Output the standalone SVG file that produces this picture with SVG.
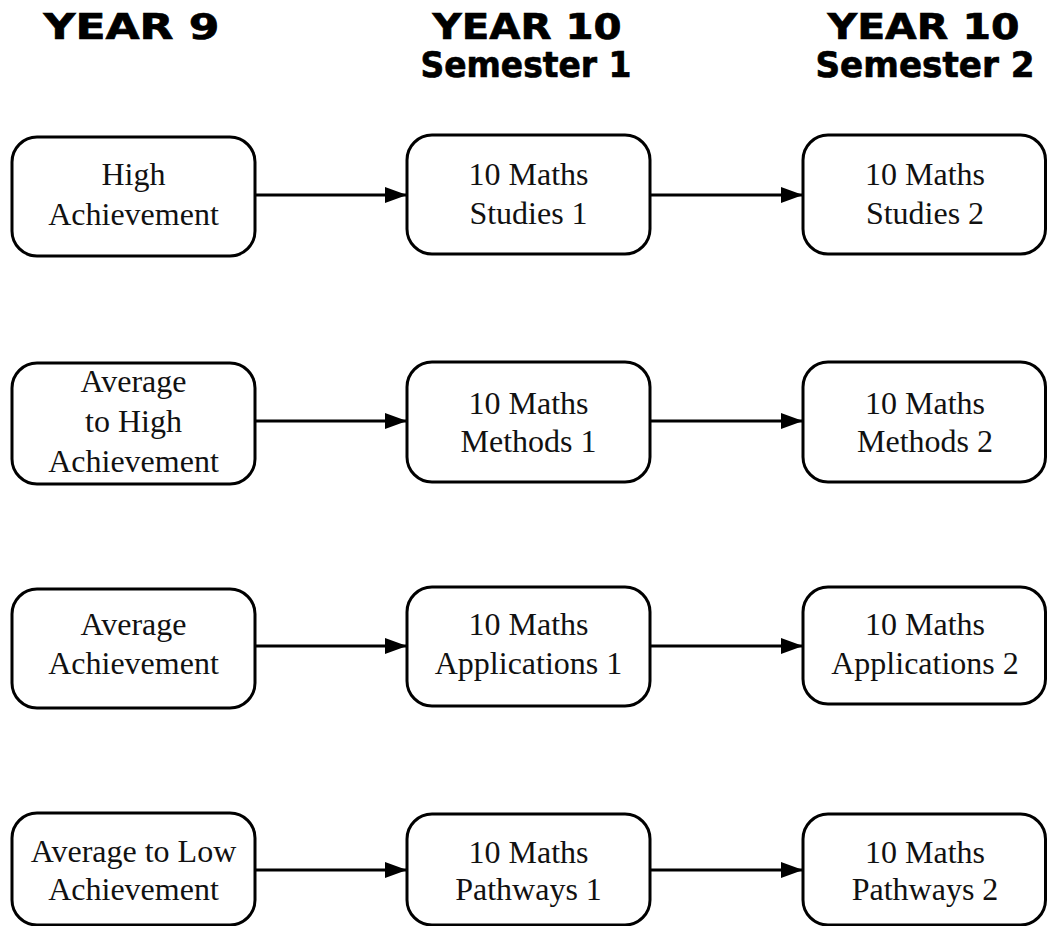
<svg xmlns="http://www.w3.org/2000/svg" width="1047" height="926" viewBox="0 0 1047 926">
<style>
.bg{fill:#fff}
.box{fill:#fff;stroke:#000;stroke-width:3}
.lbl{font-family:"Liberation Serif","Times New Roman",serif;font-size:32px;fill:#111;text-anchor:middle}
.hd{font-family:"DejaVu Sans","Liberation Sans",sans-serif;font-weight:bold;font-size:36px;fill:#000;stroke:#000;stroke-width:0.7;text-anchor:middle}
.edge{stroke:#000;stroke-width:2.8;fill:none;marker-end:url(#ah)}
</style>
<defs>
<marker id="ah" markerUnits="userSpaceOnUse" markerWidth="24" markerHeight="18" refX="22" refY="8" orient="auto">
<path d="M0,0 L22,8 L0,16 Z" fill="#000"/>
</marker>
</defs>
<rect class="bg" x="0" y="0" width="1047" height="926"/>
<g id="headings">
<text class="hd" x="131.5" y="39" textLength="176" lengthAdjust="spacingAndGlyphs">YEAR 9</text>
<text class="hd" x="527" y="39" textLength="189" lengthAdjust="spacingAndGlyphs">YEAR 10</text>
<text class="hd" x="526" y="77" textLength="211" lengthAdjust="spacingAndGlyphs">Semester 1</text>
<text class="hd" x="923.5" y="39" textLength="192" lengthAdjust="spacingAndGlyphs">YEAR 10</text>
<text class="hd" x="925" y="77" textLength="219" lengthAdjust="spacingAndGlyphs">Semester 2</text>
</g>
<g id="connectors">
<line class="edge" x1="255" y1="195" x2="407" y2="195"/>
<line class="edge" x1="650" y1="195" x2="803" y2="195"/>
<line class="edge" x1="255" y1="421" x2="407" y2="421"/>
<line class="edge" x1="650" y1="421" x2="803" y2="421"/>
<line class="edge" x1="255" y1="646" x2="407" y2="646"/>
<line class="edge" x1="650" y1="646" x2="803" y2="646"/>
<line class="edge" x1="255" y1="870" x2="407" y2="870"/>
<line class="edge" x1="650" y1="870" x2="803" y2="870"/>
</g>
<g id="n-high">
<rect class="box" x="12" y="137" width="243" height="119" rx="25"/>
<text class="lbl" x="133.5" y="185">High</text>
<text class="lbl" x="133.5" y="225">Achievement</text>
</g>
<g id="n-studies1">
<rect class="box" x="407" y="135" width="243" height="119" rx="25"/>
<text class="lbl" x="528.5" y="185">10 Maths</text>
<text class="lbl" x="528.5" y="224">Studies 1</text>
</g>
<g id="n-studies2">
<rect class="box" x="803" y="135" width="242.5" height="119" rx="25"/>
<text class="lbl" x="925" y="185">10 Maths</text>
<text class="lbl" x="925" y="224">Studies 2</text>
</g>
<g id="n-avghigh">
<rect class="box" x="12" y="363" width="243" height="121" rx="25"/>
<text class="lbl" x="133.5" y="392">Average</text>
<text class="lbl" x="133.5" y="432">to High</text>
<text class="lbl" x="133.5" y="472">Achievement</text>
</g>
<g id="n-methods1">
<rect class="box" x="407" y="362" width="243" height="120" rx="25"/>
<text class="lbl" x="528.5" y="414">10 Maths</text>
<text class="lbl" x="528.5" y="452">Methods 1</text>
</g>
<g id="n-methods2">
<rect class="box" x="803" y="362" width="242.5" height="120" rx="25"/>
<text class="lbl" x="925" y="414">10 Maths</text>
<text class="lbl" x="925" y="452">Methods 2</text>
</g>
<g id="n-avg">
<rect class="box" x="12" y="589" width="243" height="119" rx="25"/>
<text class="lbl" x="133.5" y="635">Average</text>
<text class="lbl" x="133.5" y="674">Achievement</text>
</g>
<g id="n-apps1">
<rect class="box" x="407" y="587" width="243" height="119" rx="25"/>
<text class="lbl" x="528.5" y="635">10 Maths</text>
<text class="lbl" x="528.5" y="674">Applications 1</text>
</g>
<g id="n-apps2">
<rect class="box" x="803" y="587" width="242.5" height="117" rx="25"/>
<text class="lbl" x="925" y="635">10 Maths</text>
<text class="lbl" x="925" y="674">Applications 2</text>
</g>
<g id="n-avglow">
<rect class="box" x="12" y="813" width="243" height="112" rx="25"/>
<text class="lbl" x="133.5" y="862">Average to Low</text>
<text class="lbl" x="133.5" y="900">Achievement</text>
</g>
<g id="n-pathways1">
<rect class="box" x="407" y="814" width="243" height="111" rx="25"/>
<text class="lbl" x="528.5" y="863">10 Maths</text>
<text class="lbl" x="528.5" y="900">Pathways 1</text>
</g>
<g id="n-pathways2">
<rect class="box" x="803" y="814" width="242.5" height="111" rx="25"/>
<text class="lbl" x="925" y="863">10 Maths</text>
<text class="lbl" x="925" y="900">Pathways 2</text>
</g>
</svg>
